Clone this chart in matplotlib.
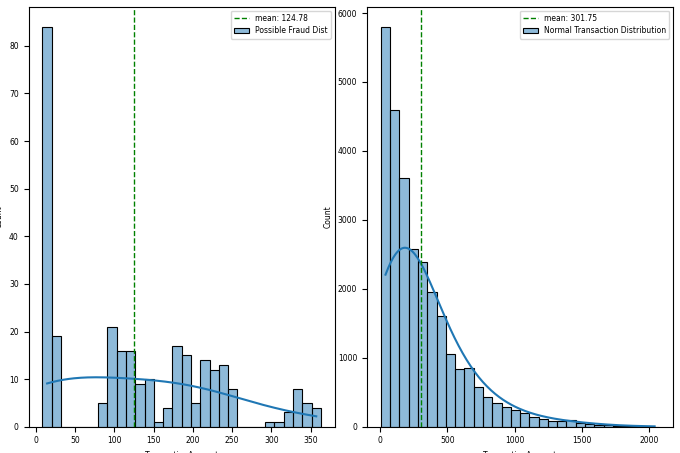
import numpy as np
import pandas as pd
import matplotlib.pyplot as plt
import seaborn as sns

# left: possible fraud, 30 bins
fraud_lo, fraud_hi = 8.5, 363.0
fraud_counts = [84, 19, 0, 0, 0, 0, 5, 21, 16, 16, 9, 10, 1, 4, 17,
                15, 5, 14, 12, 13, 8, 0, 0, 0, 1, 1, 3, 8, 5, 4]
fraud_mean = 124.78

# right: normal transactions, 30 bins
normal_lo, normal_hi = 5.0, 2075.0
normal_counts = [5800, 4600, 3600, 2580, 2390, 1950, 1600, 1060, 830, 850,
                 570, 430, 340, 280, 240, 195, 145, 110, 90, 90,
                 95, 60, 40, 30, 20, 15, 10, 8, 5, 3]
normal_mean = 301.75

plt.rcParams['font.size'] = 5.5

fig, axes = plt.subplots(1, 2, figsize=(6.8, 4.53), dpi=100)
fig.subplots_adjust(left=0.042, right=0.99, bottom=0.058, top=0.985, wspace=0.105)


def draw(ax, lo, hi, counts, mean, label):
    edges = np.linspace(lo, hi, len(counts) + 1)
    df = pd.DataFrame({'TransactionAmount': (edges[:-1] + edges[1:]) / 2,
                       'w': counts})
    sns.histplot(data=df, x='TransactionAmount', weights='w', bins=len(counts),
                 binrange=(lo, hi), kde=True, ax=ax, label=label,
                 edgecolor='black', linewidth=0.8)
    ax.axvline(mean, color='green', linestyle='--', linewidth=1,
               label=f'mean: {mean:.2f}')
    ax.set_xlabel('TransactionAmount')
    ax.set_ylabel('Count')
    ax.legend(loc='upper right')


draw(axes[0], fraud_lo, fraud_hi, fraud_counts, fraud_mean, 'Possible Fraud Dist')
draw(axes[1], normal_lo, normal_hi, normal_counts, normal_mean,
     'Normal Transaction Distribution')

plt.savefig('out.png')
